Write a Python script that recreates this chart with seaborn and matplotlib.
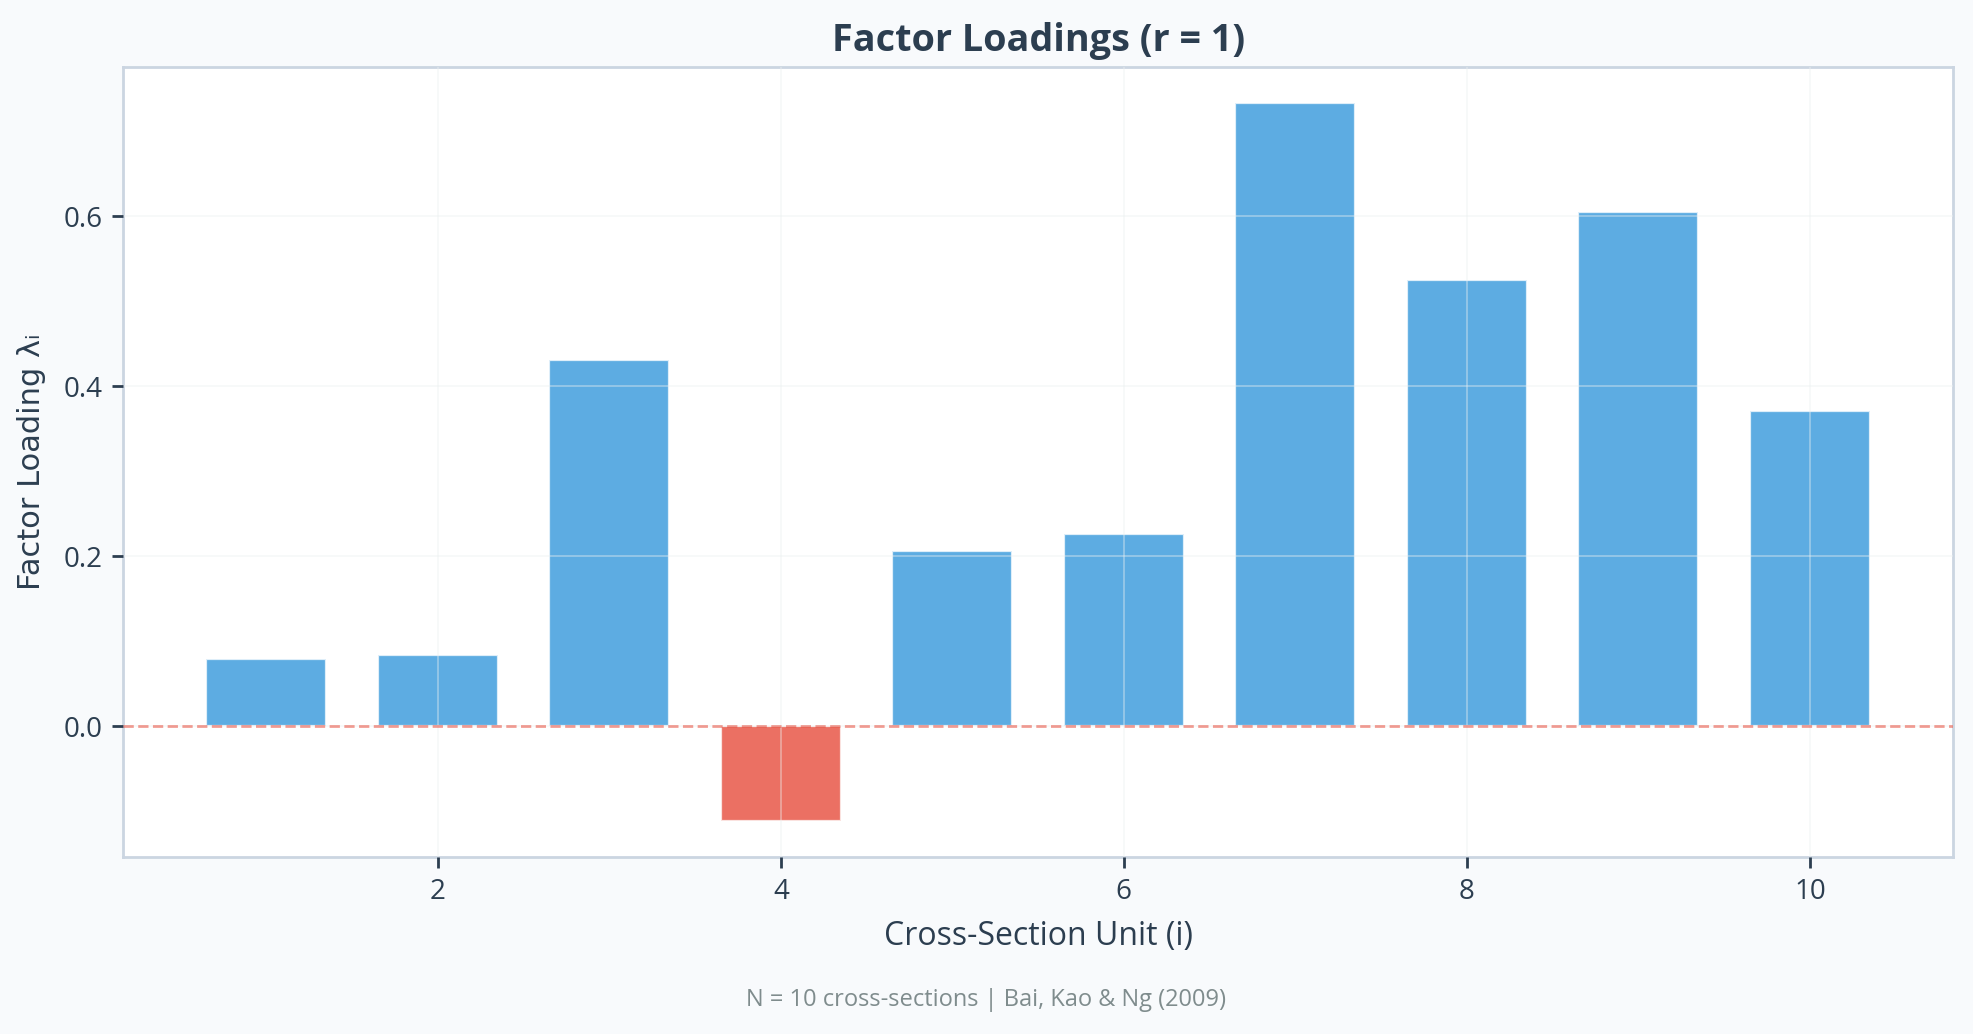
import numpy as np
import pandas as pd
import matplotlib
matplotlib.use("Agg")
import matplotlib.pyplot as plt
import seaborn as sns

units = [1, 2, 3, 4, 5, 6, 7, 8, 9, 10]
loadings = [0.079, 0.084, 0.431, -0.112, 0.206, 0.226, 0.733, 0.525, 0.605, 0.371]
title = "Factor Loadings (r = 1)"
xlabel = "Cross-Section Unit (i)"
ylabel = "Factor Loading λᵢ"
footnote = "N = 10 cross-sections | Bai, Kao & Ng (2009)"

sns.set_theme(style="whitegrid")
plt.rcParams['font.family'] = ['Open Sans', 'DejaVu Sans']

df = pd.DataFrame({"unit": units, "loading": loadings})
df["sign"] = np.where(df["loading"] >= 0, "pos", "neg")

fig = plt.figure(figsize=(9.865, 5.17), dpi=200, facecolor="#f8fafc")
ax = fig.add_axes([0.0624, 0.171, 0.9275, 0.764])
ax.set_facecolor("white")

sns.barplot(data=df, x="unit", y="loading", hue="sign",
            palette={"pos": "#3498db", "neg": "#e74c3c"},
            native_scale=True, width=0.7, alpha=0.8, saturation=1,
            edgecolor="white", linewidth=0.8, legend=False, ax=ax,
            dodge=False)

ax.axhline(0, color="#e74c3c", alpha=0.55, linestyle="--", linewidth=1.0, zorder=3)

ax.set_axisbelow(False)
ax.grid(True, color="#ecf0f1", alpha=0.45, linewidth=0.6)
for sp in ax.spines.values():
    sp.set_color("#cbd5e1")
    sp.set_linewidth(1.0)

ax.set_xlim(0.165, 10.835)
ax.set_xticks([2, 4, 6, 8, 10])
ax.set_yticks([0.0, 0.2, 0.4, 0.6])
ax.tick_params(axis="both", colors="#2c3e50", labelsize=10, length=4, width=1, direction="out",
               left=True, bottom=True)

ax.set_title(title, fontsize=13.6, fontweight="bold", color="#2c3e50", pad=6)
ax.set_xlabel(xlabel, fontsize=11.5, color="#2c3e50", labelpad=5)
ax.set_ylabel(ylabel, fontsize=11, color="#2c3e50", labelpad=6,
              family=['DejaVu Sans'])
fig.text(0.5, 0.033, footnote, ha="center", va="center", fontsize=8.5, color="#7f8c8d")

fig.savefig("out.png", dpi=200, facecolor=fig.get_facecolor())
